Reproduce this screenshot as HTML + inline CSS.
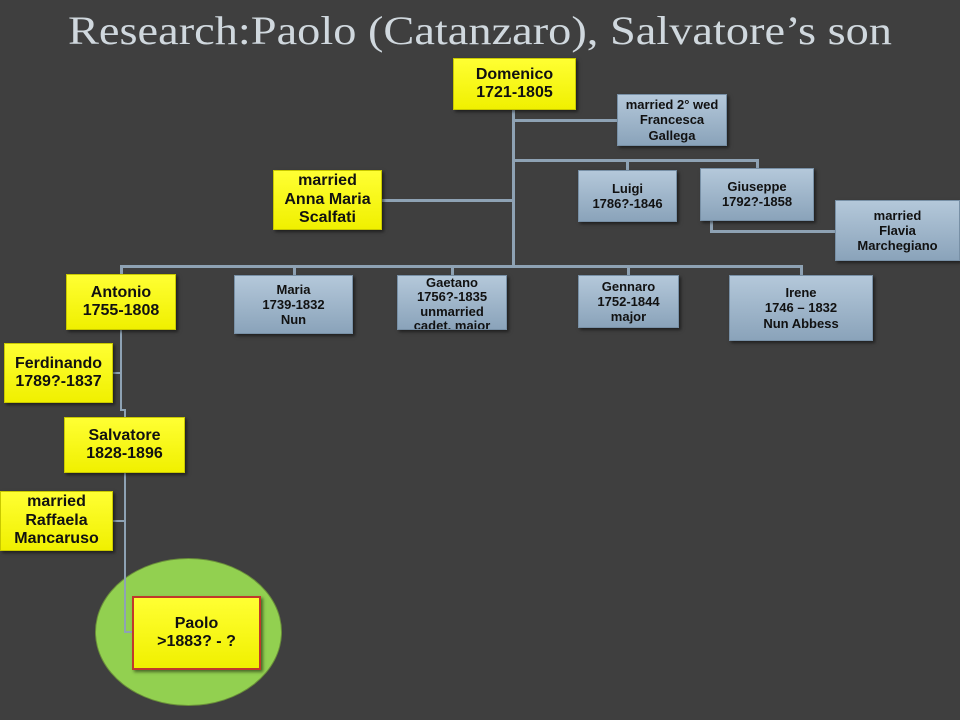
<!DOCTYPE html>
<html><head><meta charset="utf-8"><style>
body{margin:0;width:960px;height:720px;overflow:hidden;background:#3f3f3f;position:relative;font-family:"Liberation Sans",sans-serif;}
.b{position:absolute;box-sizing:border-box;display:flex;align-items:center;justify-content:center;text-align:center;font-weight:bold;color:#111;line-height:1.15;box-shadow:2px 2px 3px rgba(0,0,0,.5);}
.y{background:linear-gradient(#ffff33,#f0f000);border:1px solid #c8c800;font-size:16px;}
.u{background:linear-gradient(#b4c8da,#8aa3ba);border:1px solid #7890a6;font-size:13px;line-height:1.18;}
.l{position:absolute;background:#8ea2b4;}
</style></head><body>
<svg width="960" height="60" style="position:absolute;left:0;top:0">
<text x="68" y="44" textLength="824" lengthAdjust="spacingAndGlyphs" font-family="Liberation Serif, serif" font-size="40" fill="#d0d8de">Research:Paolo (Catanzaro), Salvatore’s son</text>
</svg>
<!-- lines -->
<div class="l" style="left:512px;top:110px;width:3px;height:157px"></div>
<div class="l" style="left:512px;top:119px;width:105px;height:3px"></div>
<div class="l" style="left:512px;top:159px;width:246px;height:3px"></div>
<div class="l" style="left:626px;top:159px;width:3px;height:12px"></div>
<div class="l" style="left:756px;top:159px;width:3px;height:10px"></div>
<div class="l" style="left:382px;top:199px;width:131px;height:3px"></div>
<div class="l" style="left:710px;top:221px;width:3px;height:11px"></div>
<div class="l" style="left:710px;top:230px;width:125px;height:3px"></div>
<div class="l" style="left:120px;top:265px;width:682px;height:3px"></div>
<div class="l" style="left:120px;top:265px;width:3px;height:10px"></div>
<div class="l" style="left:293px;top:265px;width:3px;height:10px"></div>
<div class="l" style="left:451px;top:265px;width:3px;height:10px"></div>
<div class="l" style="left:627px;top:265px;width:3px;height:10px"></div>
<div class="l" style="left:800px;top:265px;width:3px;height:10px"></div>
<div class="l" style="left:120px;top:330px;width:2px;height:80px"></div>
<div class="l" style="left:113px;top:372px;width:8px;height:2px"></div>
<div class="l" style="left:120px;top:409px;width:6px;height:2px"></div>
<div class="l" style="left:124px;top:409px;width:2px;height:8px"></div>
<div class="l" style="left:124px;top:473px;width:2px;height:160px"></div>
<div class="l" style="left:113px;top:520px;width:12px;height:2px"></div>
<div class="l" style="left:124px;top:631px;width:9px;height:2px"></div>
<!-- ellipse -->
<div style="position:absolute;left:95px;top:558px;width:187px;height:148px;border-radius:50%;background:#92d050;border:1px solid #6a8f3a;box-sizing:border-box"></div>
<div class="l" style="left:124px;top:560px;width:2px;height:73px"></div>
<div class="l" style="left:124px;top:631px;width:9px;height:2px"></div>
<!-- boxes -->
<div class="b y" style="left:453px;top:58px;width:123px;height:52px">Domenico<br>1721-1805</div>
<div class="b u" style="left:617px;top:94px;width:110px;height:52px">married 2° wed<br>Francesca<br>Gallega</div>
<div class="b u" style="left:578px;top:170px;width:99px;height:52px">Luigi<br>1786?-1846</div>
<div class="b u" style="left:700px;top:168px;width:114px;height:53px;align-items:flex-start;padding-top:10px">Giuseppe<br>1792?-1858</div>
<div class="b u" style="left:835px;top:200px;width:125px;height:61px">married<br>Flavia<br>Marchegiano</div>
<div class="b y" style="left:273px;top:170px;width:109px;height:60px">married<br>Anna Maria<br>Scalfati</div>
<div class="b y" style="left:66px;top:274px;width:110px;height:56px">Antonio<br>1755-1808</div>
<div class="b u" style="left:234px;top:275px;width:119px;height:59px">Maria<br>1739-1832<br>Nun</div>
<div class="b u" style="left:397px;top:275px;width:110px;height:55px;overflow:hidden;align-items:flex-start;padding-top:0px;line-height:1.1">Gaetano<br>1756?-1835<br>unmarried<br>cadet, major</div>
<div class="b u" style="left:578px;top:275px;width:101px;height:53px">Gennaro<br>1752-1844<br>major</div>
<div class="b u" style="left:729px;top:275px;width:144px;height:66px">Irene<br>1746 – 1832<br>Nun Abbess</div>
<div class="b y" style="left:4px;top:343px;width:109px;height:60px">Ferdinando<br>1789?-1837</div>
<div class="b y" style="left:64px;top:417px;width:121px;height:56px">Salvatore<br>1828-1896</div>
<div class="b y" style="left:0px;top:491px;width:113px;height:60px">married<br>Raffaela<br>Mancaruso</div>
<div class="b y" style="left:132px;top:596px;width:129px;height:74px;border:2px solid #c0392b">Paolo<br>&gt;1883? - ?</div>
</body></html>
